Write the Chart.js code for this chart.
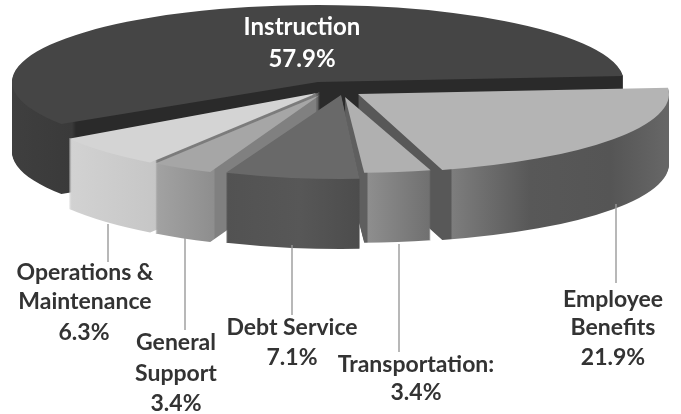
<!DOCTYPE html>
<html>
<head>
<meta charset="utf-8">
<style>
html, body { margin: 0; padding: 0; background: #fff; }
canvas { display: block; }
</style>
<script src="https://cdn.jsdelivr.net/npm/chart.js@4"></script>
</head>
<body>
<canvas id="canvas" width="681" height="414"></canvas>
<script>
const categories = ['Instruction', 'Employee Benefits', 'Transportation', 'Debt Service', 'General Support', 'Operations & Maintenance'];
const shares = [57.9, 21.9, 3.4, 7.1, 3.4, 6.3];

const topColors = ['#454545', '#b4b4b4', '#b0b0b0', '#696969', '#a6a6a6', '#d4d4d4'];

// where each slice's tip sits in the picture, and how the circle is squashed
const tipX = [318, 358, 345, 341, 320, 317];
const tipY = [82, 94, 97, 95, 95, 93];
const radiusX = [306, 311, 316, 306, 292, 296];
const radiusY = [77, 79, 76, 84, 83, 84];
const depth = 70;
const lift = [0, 0, 0, 0, 3, 0];
const drawOrder = [0, 5, 4, 1, 2, 3];

// side wall shading, [x, colour] across the picture
const walls = [
    [[12, '#3f3f3f'], [72, '#3a3a3a'], [76, '#2a2a2a'], [640, '#2a2a2a']],
    [[430, '#585858'], [451, '#585858'], [452, '#7d7d7d'], [530, '#585858'], [610, '#555555'], [665, '#666666']],
    [[358, '#5f5f5f'], [367, '#5f5f5f'], [368, '#8e8e8e'], [432, '#6f6f6f']],
    [[225, '#525252'], [300, '#575757'], [360, '#4c4c4c']],
    [[157, '#a2a2a2'], [214, '#8e8e8e'], [215, '#808080'], [226, '#808080']],
    [[70, '#d2d2d2'], [157, '#c6c6c6']]
];
const liftColor = '#7c7c7c';

// leader lines: x, from y, to y
const leaders = [
    [108, 224, 262], [185, 238, 330], [292, 245, 315], [399, 244, 352], [616, 204, 283]
];
const labelLines = [
    ['Instruction', 302, 27, '#ffffff', 24], ['57.9%', 302, 59, '#ffffff', 24],
    ['Operations &', 85, 273, '#333333', 23], ['Maintenance', 85, 302, '#333333', 23], ['6.3%', 84, 333, '#333333', 23],
    ['General', 176, 343, '#333333', 23], ['Support', 176, 374, '#333333', 23], ['3.4%', 176, 404, '#333333', 23],
    ['Debt Service', 292, 328, '#333333', 23], ['7.1%', 292, 358, '#333333', 23],
    ['Transportation:', 416, 365, '#333333', 23], ['3.4%', 416, 393, '#333333', 23],
    ['Employee', 613, 300, '#333333', 23], ['Benefits', 613, 328, '#333333', 23], ['21.9%', 613, 358, '#333333', 23]
];

function placeSlice(ctx, arc, i, drop) {
    const sx = radiusX[i] / arc.outerRadius;
    const sy = radiusY[i] / arc.outerRadius;
    ctx.setTransform(sx, 0, 0, sy, tipX[i] - arc.x * sx, tipY[i] + drop - arc.y * sy);
}

function wallFill(ctx, i) {
    const m = ctx.getTransform();
    const stops = walls[i];
    const first = stops[0][0];
    const last = stops[stops.length - 1][0];
    const g = ctx.createLinearGradient((first - m.e) / m.a, 0, (last - m.e) / m.a, 0);
    stops.forEach(s => g.addColorStop((s[0] - first) / (last - first), s[1]));
    return g;
}

const solidPie = {
    id: 'solidPie',
    beforeDatasetsDraw(chart) {
        const ctx = chart.ctx;
        const arcs = chart.getDatasetMeta(0).data;
        ctx.save();
        drawOrder.forEach(i => {
            const arc = arcs[i];
            const own = arc.options;
            placeSlice(ctx, arc, i, depth);
            arc.options = Object.create(own, { backgroundColor: { value: wallFill(ctx, i) } });
            for (let d = depth; d > 0; d--) {
                placeSlice(ctx, arc, i, d);
                arc.draw(ctx);
            }
            arc.options = Object.create(own, { backgroundColor: { value: liftColor } });
            for (let d = lift[i]; d > 0; d--) {
                placeSlice(ctx, arc, i, -d);
                arc.draw(ctx);
            }
            arc.options = own;
            placeSlice(ctx, arc, i, 0);
            arc.draw(ctx);
        });
        ctx.restore();
        return false;
    },
    afterDraw(chart) {
        const ctx = chart.ctx;
        ctx.save();
        ctx.strokeStyle = '#9a9a9a';
        ctx.lineWidth = 1.4;
        leaders.forEach(l => {
            ctx.beginPath();
            ctx.moveTo(l[0], l[1]);
            ctx.lineTo(l[0], l[2]);
            ctx.stroke();
        });
        ctx.textAlign = 'center';
        ctx.textBaseline = 'middle';
        labelLines.forEach(t => {
            ctx.font = 'bold ' + t[4] + 'px Lato';
            ctx.fillStyle = t[3];
            ctx.fillText(t[0], t[1], t[2]);
        });
        ctx.restore();
    }
};

new Chart(document.getElementById('canvas').getContext('2d'), {
    type: 'pie',
    data: {
        labels: categories,
        datasets: [{
            data: shares,
            backgroundColor: topColors,
            borderWidth: 0
        }]
    },
    options: {
        responsive: false,
        animation: false,
        rotation: 237,
        events: [],
        layout: { padding: 0 },
        plugins: {
            legend: { display: false },
            tooltip: { enabled: false }
        }
    },
    plugins: [solidPie]
});
</script>
</body>
</html>
